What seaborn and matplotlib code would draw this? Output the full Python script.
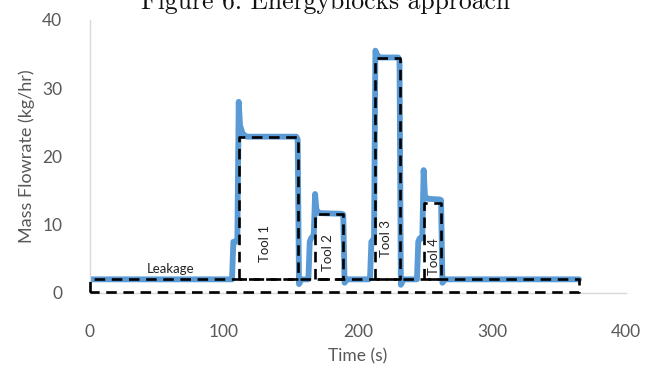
import numpy as np
import pandas as pd
import matplotlib.pyplot as plt
import seaborn as sns

time_s = [0, 106, 107, 109, 110, 111, 112, 114, 117, 154,
          155, 156, 158, 163, 164, 165, 167, 168, 169, 171,
          188, 189, 190, 192, 208, 209, 210, 212, 213, 214,
          216, 230, 231, 232, 234, 244, 245, 246, 248, 249,
          250, 252, 261, 262, 263, 265, 365]
flow = [2, 2, 7.5, 7.5, 8, 28, 24.5, 23.3, 22.9, 22.9,
        22.5, 1.3, 2, 2, 7.5, 8, 8.5, 14.5, 12.2, 11.7,
        11.6, 11.5, 1.5, 2, 2, 2.2, 7.5, 8, 35.5, 35,
        34.5, 34.5, 34, 1.2, 2, 2, 7.5, 8, 8, 18,
        14.2, 13.8, 13.7, 13.6, 1.5, 2, 2]

# energy blocks
block_names = ['Leakage', 'Tool 1', 'Tool 2', 'Tool 3', 'Tool 4']
block_start = [0, 111, 168, 213, 249]
block_end = [365, 155, 189, 231, 262]
block_bottom = [0.15, 2, 2, 2, 2]
block_top = [2, 22.8, 11.5, 34.4, 13.2]

sns.set_style('white')
plt.rcParams['font.family'] = ['Lato', 'DejaVu Sans']

fig = plt.figure(figsize=(6.45, 3.69), dpi=100)
ax = fig.add_axes([0.1395, 0.206, 0.831, 0.74])

df = pd.DataFrame({'Time (s)': time_s, 'flow': flow})
sns.lineplot(data=df, x='Time (s)', y='flow', ax=ax, sort=False,
             color='#5B9BD5', lw=4.2, solid_joinstyle='round',
             solid_capstyle='round', zorder=2)

# dashed block outlines
for x0, x1, y0, y1 in zip(block_start, block_end, block_bottom, block_top):
    ax.plot([x0, x0, x1, x1, x0], [y0, y1, y1, y0, y0], color='black',
            lw=1.9, linestyle=(0, (4, 2.5)), zorder=3, clip_on=False)

# labels
ax.text(60, 2.6, 'Leakage', fontsize=9.5, ha='center', va='bottom', color='#222222', zorder=1)
tool_x = [130.5, 178, 221, 257]
tool_y = [7.3, 5.9, 8.0, 5.3]
for name, tx, ty in zip(block_names[1:], tool_x, tool_y):
    ax.text(tx, ty, name, fontsize=9.5, rotation=90, ha='center', va='center',
            color='#222222', zorder=1)

ax.set_xlim(0, 400)
ax.set_ylim(0, 40)
ax.set_xticks([0, 100, 200, 300, 400])
ax.set_yticks([0, 10, 20, 30, 40])
ax.tick_params(axis='both', length=0, labelsize=12.5, colors='#595959')
ax.tick_params(axis='x', pad=22)
ax.tick_params(axis='y', pad=20)
ax.set_xlabel('Time (s)', fontsize=12.5, color='#595959', labelpad=6)
ax.set_ylabel('Mass Flowrate (kg/hr)', fontsize=13, color='#595959', labelpad=5)

for side in ['top', 'right']:
    ax.spines[side].set_visible(False)
for side in ['left', 'bottom']:
    ax.spines[side].set_color('#d9d9d9')
    ax.spines[side].set_linewidth(1.0)

fig.text(0.505, 0.995, 'Figure 6: Energyblocks approach', fontsize=18.5,
         family=['cmr10', 'DejaVu Serif'], ha='center', va='center', color='#111111')

fig.savefig('out.png', dpi=100)
